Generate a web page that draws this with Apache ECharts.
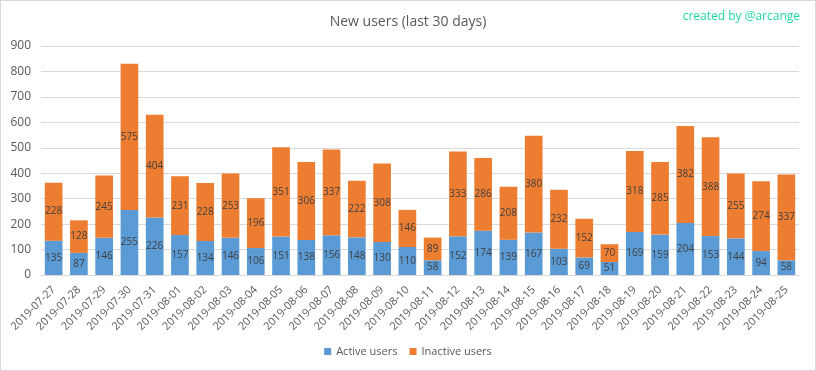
<!DOCTYPE html>
<html><head><meta charset="utf-8">
<script src="https://cdn.jsdelivr.net/npm/echarts@6/dist/echarts.min.js"></script>
<style>html,body{margin:0;padding:0;background:#fff;}#c{width:816px;height:371px;box-sizing:border-box;border:1px solid #d9d9d9;}</style>
</head><body><div id="c"></div>
<script>
const categories = ["2019-07-27","2019-07-28","2019-07-29","2019-07-30","2019-07-31","2019-08-01","2019-08-02","2019-08-03","2019-08-04","2019-08-05","2019-08-06","2019-08-07","2019-08-08","2019-08-09","2019-08-10","2019-08-11","2019-08-12","2019-08-13","2019-08-14","2019-08-15","2019-08-16","2019-08-17","2019-08-18","2019-08-19","2019-08-20","2019-08-21","2019-08-22","2019-08-23","2019-08-24","2019-08-25"];
const activeUsers = [135,87,146,255,226,157,134,146,106,151,138,156,148,130,110,58,152,174,139,167,103,69,51,169,159,204,153,144,94,58];
const inactiveUsers = [228,128,245,575,404,231,228,253,196,351,306,337,222,308,146,89,333,286,208,380,232,152,70,318,285,382,388,255,274,337];

const font = "'Open Sans', 'Liberation Sans', sans-serif";
const chart = echarts.init(document.getElementById('c'), null, {renderer:'canvas'});
const lbl = {show:true, position:'inside', color:'#404040', fontSize:10, fontFamily:font};
chart.setOption({
  animation:false,
  title:[{text:'New users (last 30 days)', left:'center', top:9, textStyle:{fontSize:14, fontWeight:'normal', color:'#595959', fontFamily:font}},
         {text:'created by @arcange', right:10, top:5, textStyle:{fontSize:12, fontWeight:'normal', color:'#1fd8a0', fontFamily:font}}],
  legend:{bottom:8, left:'center', itemWidth:7, itemHeight:7, itemGap:12, icon:'rect', textStyle:{color:'#595959', fontSize:11, fontFamily:font}},
  grid:{left:40, right:16, top:45, bottom:95},
  xAxis:{type:'category', data:categories, axisTick:{show:false}, axisLine:{lineStyle:{color:'#d9d9d9'}},
    axisLabel:{rotate:45, interval:0, color:'#595959', fontSize:11, fontFamily:font, margin:13}},
  yAxis:{type:'value', min:0, max:900, interval:100, axisLine:{show:false}, axisTick:{show:false},
    splitLine:{lineStyle:{color:'#d9d9d9'}}, axisLabel:{color:'#595959', fontSize:12, fontFamily:font, margin:10}},
  series:[
    {name:'Active users', type:'bar', stack:'a', data:activeUsers, barWidth:'70%', itemStyle:{color:'#5b9bd5'}, label:lbl},
    {name:'Inactive users', type:'bar', stack:'a', data:inactiveUsers, barWidth:'70%', itemStyle:{color:'#ed7d31'}, label:lbl}
  ]
});
</script></body></html>
